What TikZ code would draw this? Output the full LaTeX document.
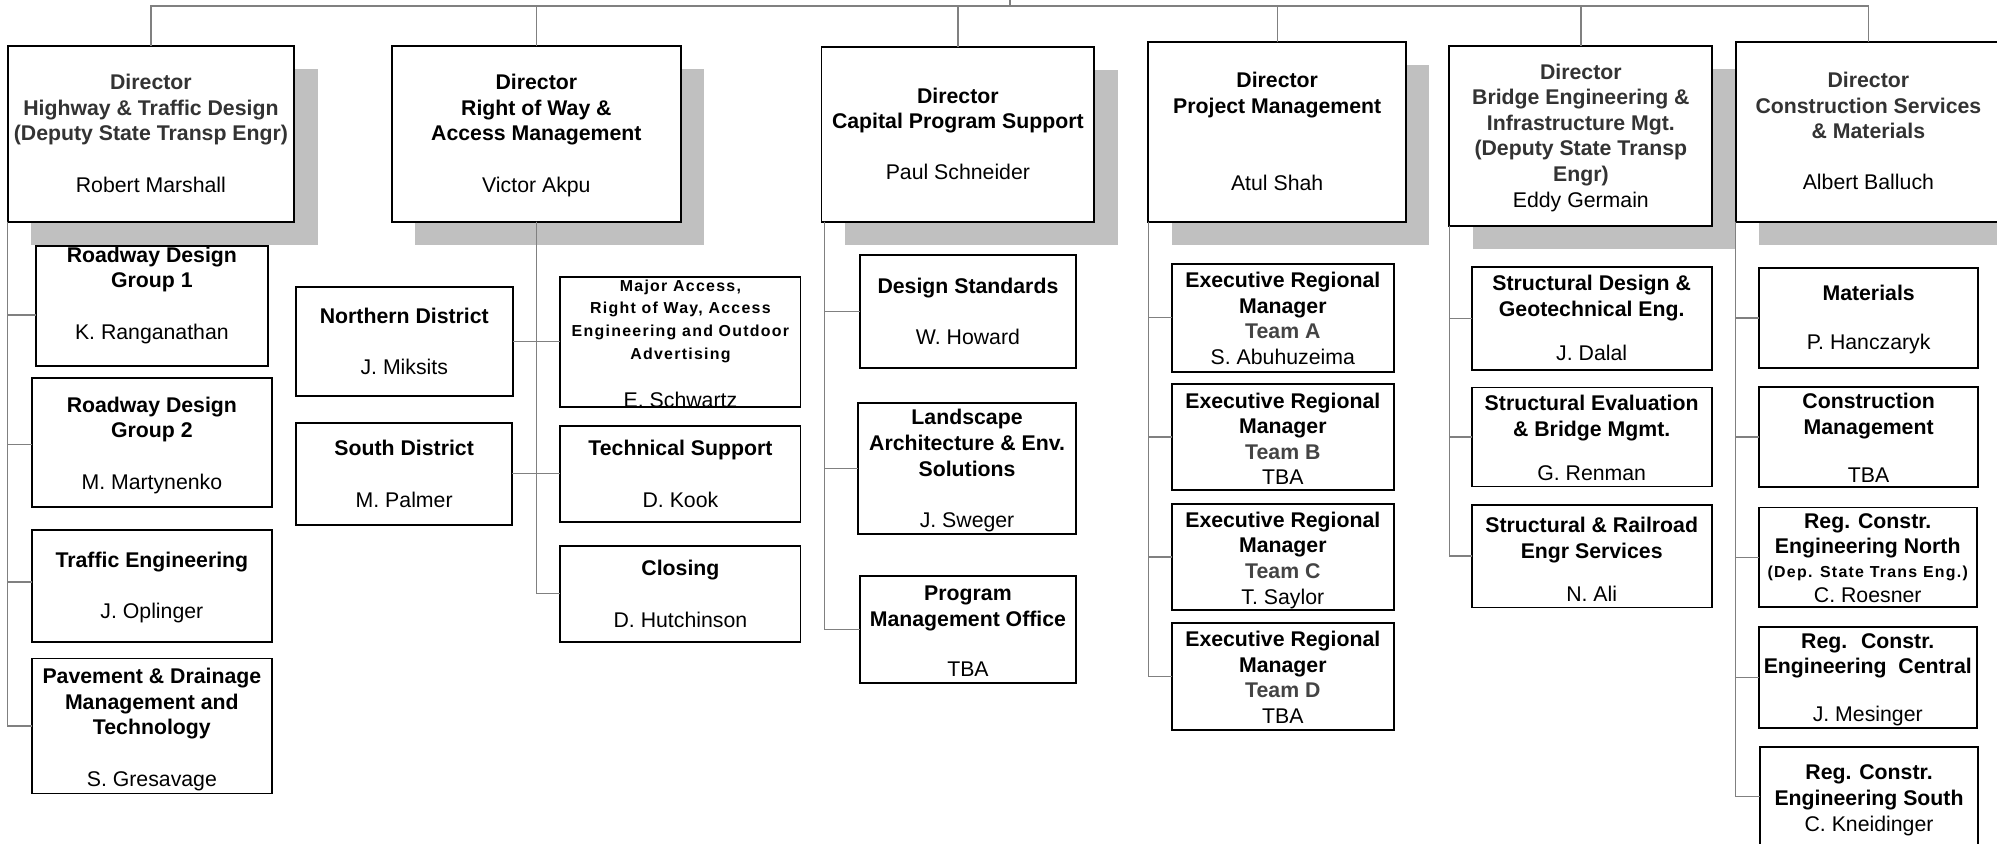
\documentclass[tikz,border=0pt]{standalone}
\usepackage{fontspec}
\setmainfont{Liberation Sans}
\usetikzlibrary{shadows}
\definecolor{conncol}{HTML}{808080}
\definecolor{shadowcol}{HTML}{C0C0C0}
\definecolor{dtcol}{HTML}{333333}
\definecolor{teamcol}{HTML}{444444}
\newcommand\dtl[1]{\textcolor{dtcol}{\bfseries #1}}
\newcommand\tbl[1]{{\bfseries #1}}
\newcommand\tml[1]{\textcolor{teamcol}{\bfseries #1}}
\newcommand\depline[1]{{\fontsize{12.5}{17.7}\selectfont\bfseries\addfontfeatures{LetterSpace=8}#1}}
\newcommand\mkbox[6][orgbox]{\node[#1, minimum width={(#5-#3)*1pt}, minimum height={(#6-#4)*1pt}] (#2) at ({(#3+#5)/2},{(#4+#6)/2}) {};}
\newcommand\mktext[5][]{\node[txt,#1] (#2) at (#3,#4) {\strut #5};}
\tikzset{
  orgbox/.style={draw=black, line width=1.4pt, fill=white, rectangle, inner sep=0pt, outer sep=0pt},
  dirbox/.style={orgbox, drop shadow={shadow xshift=18.3pt, shadow yshift=-18pt, fill=shadowcol, opacity=1}},
  txt/.style={anchor=north, align=center, inner sep=0pt, outer sep=0pt, font=\fontsize{16.7}{20.1}\selectfont},
  smalltxt/.style={txt, font=\fontsize{12.5}{17.7}\selectfont\bfseries\addfontfeatures{LetterSpace=8}},
  conn/.style={draw=conncol, line width=1pt},
}
\begin{document}
\begin{tikzpicture}[x=1pt,y=-1pt]
\useasboundingbox (0,0) rectangle (1568,662);
\fill[white] (0,0) rectangle (1568,662);
\clip (0,0) rectangle (1568,662);

% ---------- director boxes ----------
\mkbox[dirbox]{b1}{6}{35.9}{231}{174}
\mkbox[dirbox]{b2}{307.8}{35.9}{534.5}{174}
\mkbox[dirbox]{b3}{645}{36.6}{859.2}{174}
\mkbox[dirbox]{b4}{901.6}{33.2}{1104}{174}
\mkbox[dirbox]{b5}{1138}{35.9}{1344.5}{177.2}
\mkbox[dirbox]{b6}{1362.8}{32.7}{1571.2}{174}

% ---------- column 1 ----------
\mkbox{r1}{28.3}{192.9}{210.2}{287.1}
\mkbox{r2}{25}{297}{213.5}{398}
\mkbox{r3}{25}{416}{213.5}{504}
\mkbox{r4}{25}{517}{213.5}{623}
% ---------- column 2 ----------
\mkbox{nd}{232.4}{225.6}{402.5}{311}
\mkbox{ma}{440}{217.2}{628.5}{319.3}
\mkbox{sd}{232.4}{332}{402.3}{412}
\mkbox{ts}{440}{334.5}{628.5}{409.6}
\mkbox{cl}{440}{428.7}{628.5}{503.8}
% ---------- column 3 ----------
\mkbox{ds}{675}{200.2}{845}{289.2}
\mkbox{la}{673.6}{316.7}{845}{419.3}
\mkbox{pm}{675}{452}{845}{536}
% ---------- column 4 ----------
\mkbox{ea}{920}{207}{1094.5}{292}
\mkbox{eb}{920}{301.5}{1094.5}{384.7}
\mkbox{ec}{920}{395.7}{1094.5}{479}
\mkbox{ed}{920}{489}{1094.5}{573}
% ---------- column 5 ----------
\mkbox{sg}{1155.5}{209.4}{1344}{290.5}
\mkbox{se}{1155.5}{304.2}{1344}{381.9}
\mkbox{sr}{1155.5}{396.3}{1344}{477}
% ---------- column 6 ----------
\mkbox{mt}{1381.4}{210.2}{1553}{289.2}
\mkbox{cm}{1381.4}{303.9}{1553}{382.5}
\mkbox{rn}{1381}{398.4}{1552}{476.7}
\mkbox{rc}{1381}{492.4}{1552}{571.3}
\mkbox{rs}{1382}{586.6}{1553}{664}

% ---------- connectors ----------
\coordinate (root) at (793,0);
\coordinate (bus) at (793,4.7);
\draw[conn] (root) -- (bus);
\draw[conn] (b1.north) -- (b1.north |- bus) -- (b6.north |- bus) -- (b6.north);
\foreach \b in {b2,b3,b4,b5} \draw[conn] (\b.north) -- (\b.north |- bus);

\draw[conn] (b1.south west) |- ([yshift=-7.3pt]r1.west);
\draw[conn] (b1.south west) |- ([yshift=-1.5pt]r2.west);
\draw[conn] (b1.south west) |- ([yshift=3pt]r3.west);
\draw[conn] (b1.south west) |- (r4.west);

\foreach \c in {nd.east,ma.west,sd.east,ts.west,cl.west} \draw[conn] (b2.south) |- (\c);

\foreach \c in {ds,la,pm} \draw[conn] ([xshift=2.5pt]b3.south west) |- (\c.west);
\foreach \c in {ea,eb,ec,ed} \draw[conn] (b4.south west) |- (\c.west);
\foreach \c in {sg,se,sr} \draw[conn] (b5.south west) |- (\c.west);
\foreach \c in {mt,cm,rn,rc,rs} \draw[conn] (b6.south west) |- (\c.west);

% ---------- texts: directors ----------
\mktext{b1t}{118.5}{56.3}{\dtl{Director}\\\dtl{Highway \& Traffic Design}\\\dtl{(Deputy State Transp Engr)}\\[20.1pt]Robert Marshall}
\mktext{b2t}{421.15}{56.3}{\tbl{Director}\\\tbl{Right of Way \&}\\\tbl{Access Management}\\[20.1pt]Victor Akpu}
\mktext{b3t}{752.1}{66.8}{\tbl{Director}\\\tbl{Capital Program Support}\\[20.1pt]Paul Schneider}
\mktext{b4t}{1002.8}{55}{\tbl{Director}\\\tbl{Project Management}\\[40.2pt]Atul Shah}
\mktext{b5t}{1241.25}{48}{\dtl{Director}\\\dtl{Bridge Engineering \&}\\\dtl{Infrastructure Mgt.}\\\dtl{(Deputy State Transp}\\\dtl{Engr)}\\Eddy Germain}
\mktext{b6t}{1467}{54.7}{\dtl{Director}\\\dtl{Construction Services}\\\dtl{\& Materials}\\[20.1pt]Albert Balluch}

% ---------- texts: column 1 ----------
\mktext{r1t}{119.25}{191.9}{\tbl{Roadway Design}\\\tbl{Group 1}\\[20.1pt]K. Ranganathan}
\mktext{r2t}{119.25}{309.7}{\tbl{Roadway Design}\\\tbl{Group 2}\\[20.1pt]M. Martynenko}
\mktext{r3t}{119.25}{431.7}{\tbl{Traffic Engineering}\\[20.1pt]J. Oplinger}
\mktext{r4t}{119.25}{522.7}{\tbl{Pavement \& Drainage}\\\tbl{Management and}\\\tbl{Technology}\\[20.1pt]S. Gresavage}

% ---------- texts: column 2 ----------
\mktext{ndt}{317.45}{240.3}{\tbl{Northern District}\\[19.6pt]J. Miksits}
\begin{scope}
\clip (ma.south west) rectangle (ma.north east);
\node[smalltxt] (mat) at (534.25,216.4) {\strut Major Access,\\Right of Way, Access\\Engineering and Outdoor\\Advertising};
\node[txt] (man) at (534.25,306.2) {\strut E. Schwartz};
\end{scope}
\mktext{sdt}{317.35}{343.5}{\tbl{South District}\\[20.6pt]M. Palmer}
\mktext{tst}{534.25}{343.7}{\tbl{Technical Support}\\[20.5pt]D. Kook}
\mktext{clt}{534.25}{437.7}{\tbl{Closing}\\[20.7pt]D. Hutchinson}

% ---------- texts: column 3 ----------
\mktext{dst}{760}{216.3}{\tbl{Design Standards}\\[20.2pt]W. Howard}
\mktext{lat}{759.3}{319.6}{\tbl{Landscape}\\\tbl{Architecture \& Env.}\\\tbl{Solutions}\\[20.5pt]J. Sweger}
\mktext{pmt}{760}{457.6}{\tbl{Program}\\\tbl{Management Office}\\[19pt]TBA}

% ---------- texts: column 4 ----------
\mktext{eat}{1007.25}{211.7}{\tbl{Executive Regional}\\\tbl{Manager}\\\tml{Team A}\\S. Abuhuzeima}
\mktext{ebt}{1007.25}{306.3}{\tbl{Executive Regional}\\\tbl{Manager}\\\tml{Team B}\\TBA}
\mktext{ect}{1007.25}{400}{\tbl{Executive Regional}\\\tbl{Manager}\\\tml{Team C}\\T. Saylor}
\mktext{edt}{1007.25}{493.7}{\tbl{Executive Regional}\\\tbl{Manager}\\\tml{Team D}\\TBA}

% ---------- texts: column 5 ----------
\mktext{sgt}{1249.75}{214.2}{\tbl{Structural Design \&}\\\tbl{Geotechnical Eng.}\\[14.3pt]J. Dalal}
\mktext{set}{1249.75}{308.2}{\tbl{Structural Evaluation}\\\tbl{\& Bridge Mgmt.}\\[15pt]G. Renman}
\mktext{srt}{1249.75}{404}{\tbl{Structural \& Railroad}\\\tbl{Engr Services}\\[13.7pt]N. Ali}

% ---------- texts: column 6 ----------
\mktext{mtt}{1467.2}{222.2}{\tbl{Materials}\\[18pt]P. Hanczaryk}
\mktext{cmt}{1467.2}{306.6}{\tbl{Construction}\\\tbl{Management}\\[17.6pt]TBA}
\mktext[font=\fontsize{16.7}{19.2}\selectfont]{rnt}{1466.5}{401.9}{\tbl{Reg. Constr.}\\\tbl{Engineering North}\\\depline{(Dep. State Trans Eng.)}\\C. Roesner}
\mktext{rct}{1466.5}{494.8}{\tbl{Reg.~ Constr.}\\\tbl{Engineering~ Central}\\[17.6pt]J. Mesinger}
\mktext{rst}{1467.5}{598.3}{\tbl{Reg. Constr.}\\\tbl{Engineering South}\\C. Kneidinger}
\end{tikzpicture}
\end{document}
